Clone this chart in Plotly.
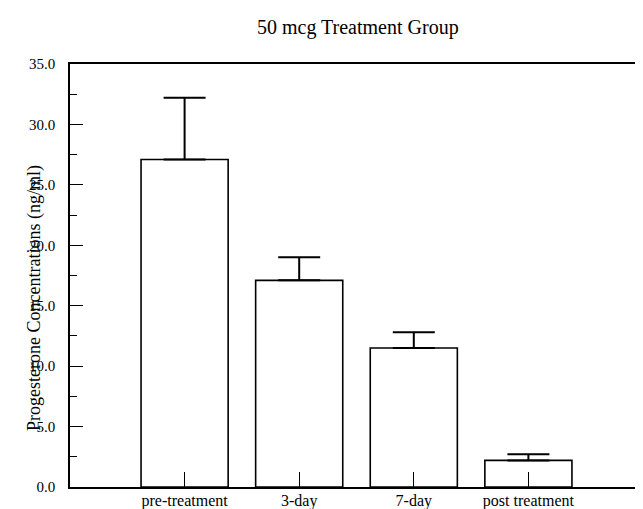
import plotly.graph_objects as go

categories = ["pre-treatment", "3-day", "7-day", "post treatment"]
means = [27.1, 17.1, 11.5, 2.2]
sem_plus = [5.1, 1.9, 1.3, 0.5]
y_ticks = [0, 5, 10, 15, 20, 25, 30, 35]
y_tick_text = ["0.0", "5.0", "10.0", "15.0", "20.0", "25.0", "30.0", "35.0"]

FONT = "Liberation Serif"

fig = go.Figure()
fig.add_trace(go.Bar(
    x=categories, y=means, width=0.76,
    marker=dict(color="white", line=dict(color="black", width=1.6)),
    error_y=dict(type="data", symmetric=False, array=sem_plus,
                 arrayminus=[0] * len(means), color="black",
                 thickness=2, width=21),
    showlegend=False,
))

fig.update_layout(
    width=643, height=509,
    margin=dict(l=62, r=8, t=56, b=30),
    plot_bgcolor="white", paper_bgcolor="white",
    font=dict(family=FONT, color="black"),
    bargap=0.24,
)
fig.update_xaxes(
    type="category", range=[-1, 4], showline=True, linecolor="black", linewidth=1.6,
    mirror=True, ticks="inside", ticklen=15, tickwidth=1.4, tickcolor="black",
    tickfont=dict(family=FONT, size=16, color="black"), showgrid=False,
    ticklabelstandoff=-2, automargin=False,
)
fig.update_yaxes(
    range=[0, 35], tickvals=y_ticks, ticktext=y_tick_text,
    showline=True, linecolor="black", linewidth=1.6, mirror=True,
    ticks="inside", ticklen=13, tickwidth=1.4, tickcolor="black",
    minor=dict(dtick=2.5, tick0=0, ticks="inside", ticklen=7, tickwidth=1.2, tickcolor="black"),
    tickfont=dict(family=FONT, size=15, color="black"), showgrid=False, zeroline=False,
    ticklabelstandoff=10, automargin=False,
)
fig.add_annotation(
    text="50 mcg Treatment Group",
    xref="paper", yref="paper", x=0.503, y=1.087, xanchor="center", yanchor="middle",
    showarrow=False, font=dict(family=FONT, size=20, color="black"),
)
fig.add_annotation(
    text="Progesterone Concentrations (ng/ml)", textangle=-90,
    xref="paper", yref="paper", x=-0.061, y=0.447, xanchor="center", yanchor="middle",
    showarrow=False, font=dict(family=FONT, size=18, color="black"),
)
fig.write_html("out.html")
